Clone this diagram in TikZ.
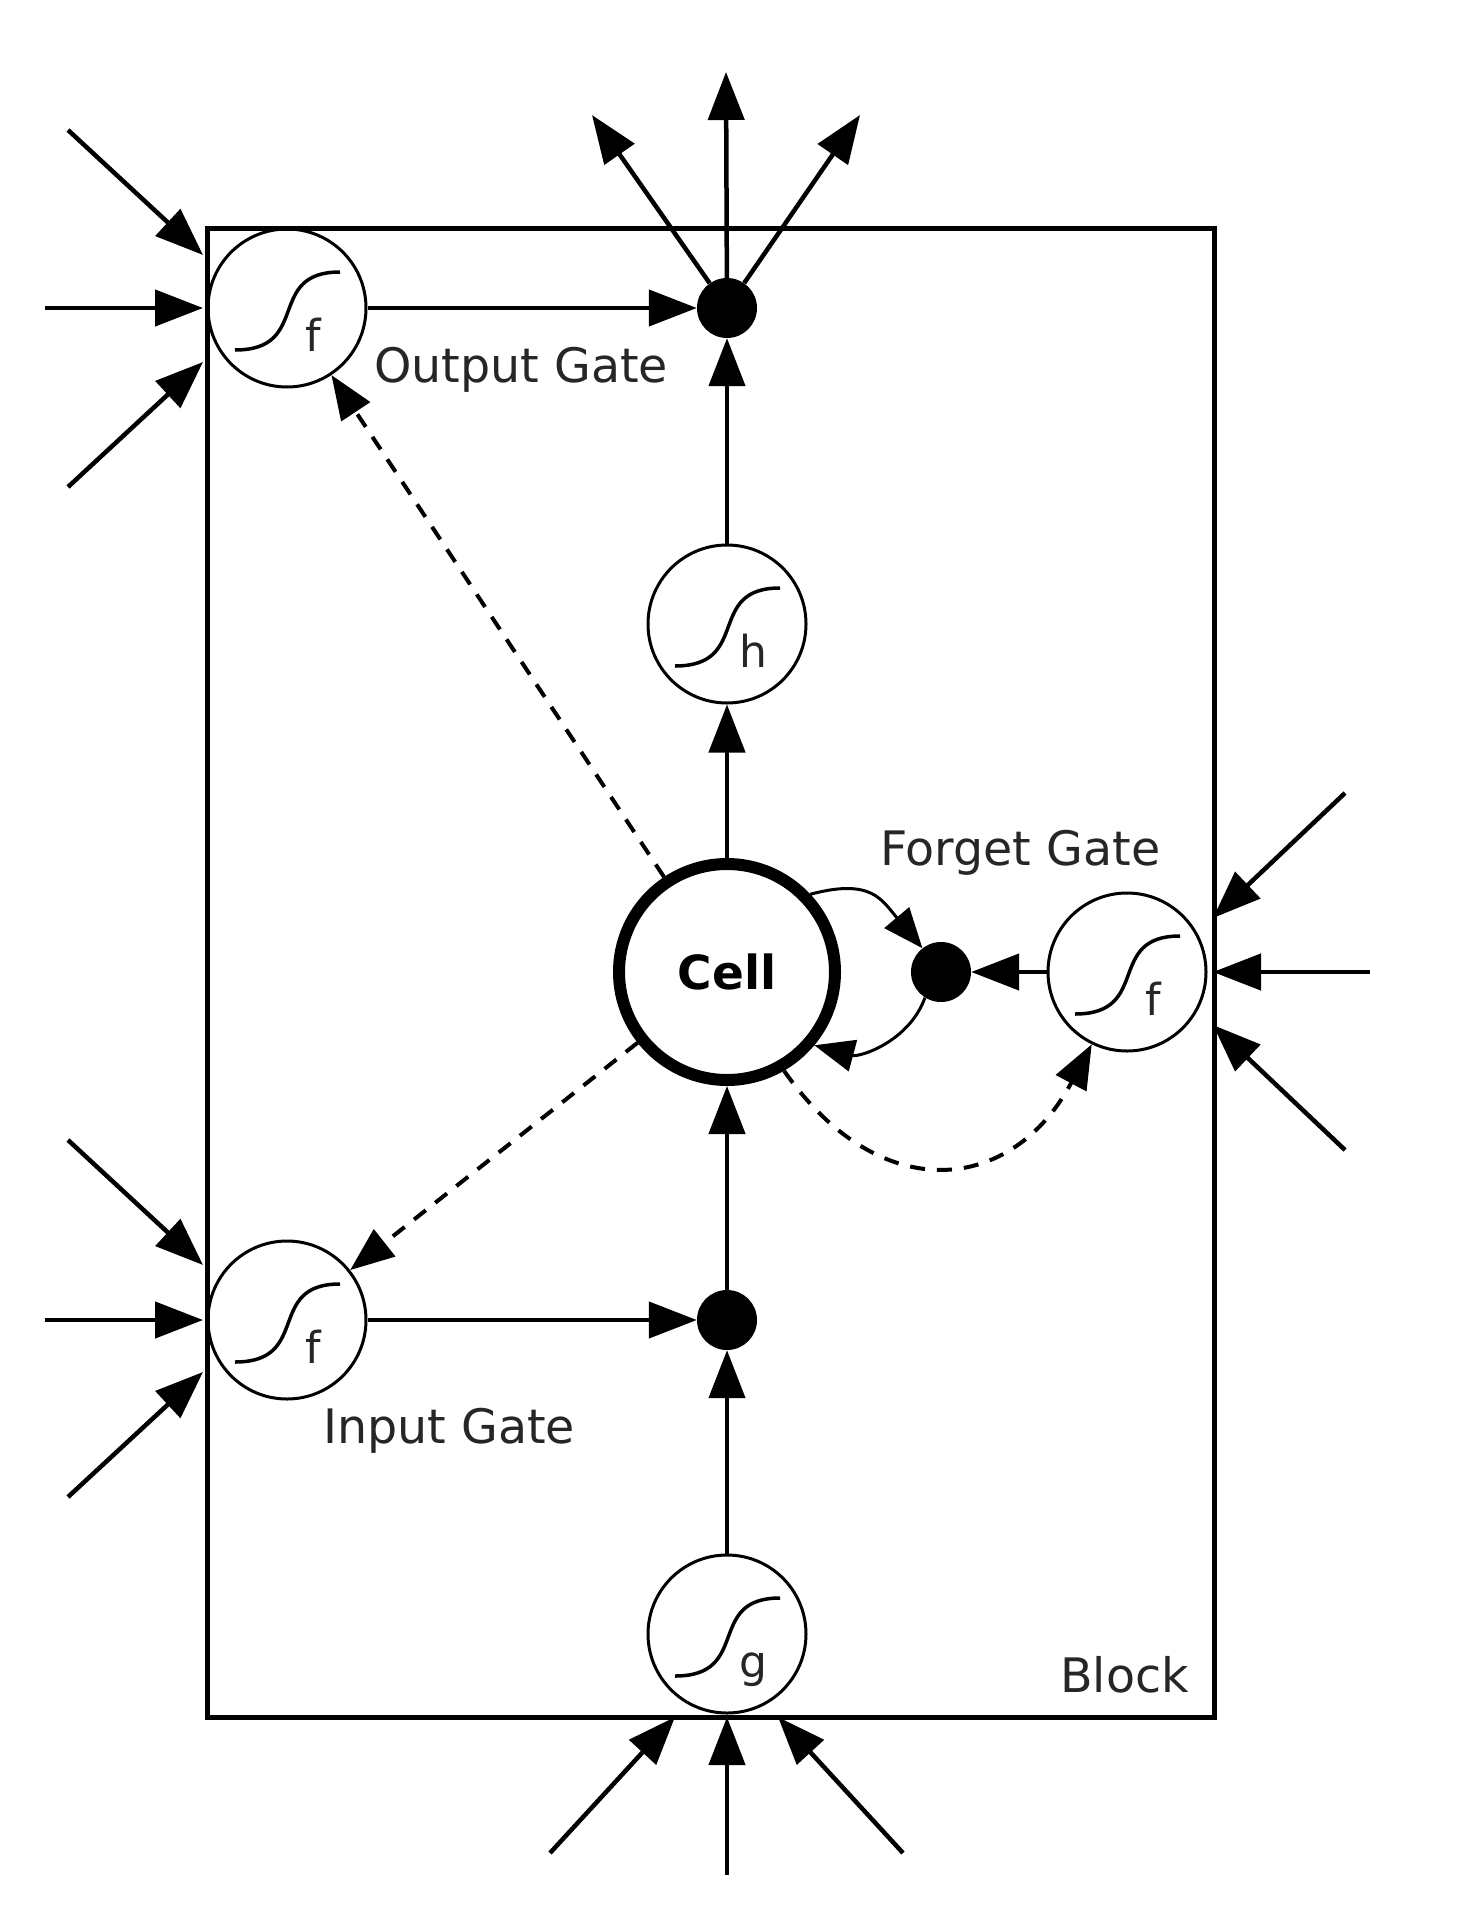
\documentclass[tikz,border=0pt]{standalone}
\usepackage{fontspec}
\setmainfont{DejaVu Sans}
\usetikzlibrary{arrows.meta}
\begin{document}
\begin{tikzpicture}[x=1pt,y=1pt,
  arr/.style={line width=4.5pt,-{Triangle[length=48pt,width=36pt]}},
  looparr/.style={line width=3pt,-{Triangle[length=40pt,width=32pt]}},
  dsh/.style={line width=4pt,dash pattern=on 15pt off 12pt,-{Triangle[length=44pt,width=34pt]}},
  gate/.style={circle,draw,line width=3pt,minimum size=158pt,inner sep=0pt},
  mult/.style={circle,fill=black,minimum size=60pt,inner sep=0pt},
  lbl/.style={font=\fontsize{47.5}{57}\selectfont,text=black!85,inner sep=0pt,anchor=base west},
  sym/.style={font=\fontsize{44}{52}\selectfont,text=black!85,inner sep=0pt,anchor=base},
  sigm/.pic={\draw[line width=3.5pt] (-52,-42) .. controls (25,-42) and (-22,36) .. (53,36);}
]
\useasboundingbox (0,0) rectangle (1457,-1911);
\fill[white] (0,0) rectangle (1457,-1911);

% block
\node[draw,line width=4.5pt,minimum width=1007pt,minimum height=1489pt,inner sep=0pt,anchor=north west] (block) at (205,-226) {};

% gates
\node[gate] (og) at (287,-308) {};
\node[gate] (ig) at (287,-1320) {};
\node[gate] (fg) at (1127,-972) {};
\node[gate] (hh) at (727,-624) {};
\node[gate] (gg) at (727,-1634) {};
\pic at (og) {sigm};
\pic at (ig) {sigm};
\pic at (fg) {sigm};
\pic at (hh) {sigm};
\pic at (gg) {sigm};
\node[sym] (ogl) at (313,-351) {f};
\node[sym] (igl) at (313,-1363) {f};
\node[sym] (fgl) at (1153,-1015) {f};
\node[sym] (hhl) at (753,-667) {h};
\node[sym] (ggl) at (753,-1677) {g};

% cell and multipliers
\node[circle,draw,line width=12pt,minimum size=216pt,inner sep=0pt,font=\bfseries\fontsize{47}{56}\selectfont] (cell) at (727,-972) {Cell};
\node[mult] (od) at (727,-308) {};
\node[mult] (id) at (727,-1320) {};
\node[mult] (fd) at (941,-972) {};

% labels
\node[lbl] (ogt) at (374,-382) {Output Gate};
\node[lbl] (igt) at (323,-1443) {Input Gate};
\node[lbl] (fgt) at (880,-865) {Forget Gate};
\node[lbl] (blk) at (1060,-1692) {Block};

% internal connections
\draw[arr] (og) -- (od);
\draw[arr] (hh) -- (od);
\draw[arr] (cell) -- (hh);
\draw[arr] (id) -- (cell);
\draw[arr] (gg) -- (id);
\draw[arr] (ig) -- (id);
\draw[arr] (fg) -- (fd);
\draw[looparr] (cell.43) to[out=15,in=130,looseness=1.3] (fd.128);
\draw[looparr] (fd.-122) to[out=-110,in=-15] (cell.-40);
\draw[dsh] (cell) -- (og);
\draw[dsh] (cell) -- (ig);
\draw[dsh] (cell.-60) to[out=-55,in=-118,looseness=1.4] (fg.-116);

% outputs
\coordinate (t1) at (592,-115);
\coordinate (t2) at (726,-72);
\coordinate (t3) at (860,-115);
\draw[arr] (od) -- (t1);
\draw[arr] (od) -- (t2);
\draw[arr] (od) -- (t3);

% output gate inputs
\coordinate (oa1) at (68,-130);  \coordinate (oa1t) at (203,-255);
\coordinate (oa2) at (45,-308);  \coordinate (oa2t) at (203,-308);
\coordinate (oa3) at (68,-487);  \coordinate (oa3t) at (203,-362);
\draw[arr] (oa1) -- (oa1t);
\draw[arr] (oa2) -- (oa2t);
\draw[arr] (oa3) -- (oa3t);

% input gate inputs
\coordinate (ia1) at (68,-1140);  \coordinate (ia1t) at (203,-1265);
\coordinate (ia2) at (45,-1320);  \coordinate (ia2t) at (203,-1320);
\coordinate (ia3) at (68,-1497);  \coordinate (ia3t) at (203,-1372);
\draw[arr] (ia1) -- (ia1t);
\draw[arr] (ia2) -- (ia2t);
\draw[arr] (ia3) -- (ia3t);

% forget gate inputs
\coordinate (fa1) at (1345,-793);  \coordinate (fa1t) at (1213,-918);
\coordinate (fa2) at (1370,-972);  \coordinate (fa2t) at (1213,-972);
\coordinate (fa3) at (1345,-1150); \coordinate (fa3t) at (1213,-1025);
\draw[arr] (fa1) -- (fa1t);
\draw[arr] (fa2) -- (fa2t);
\draw[arr] (fa3) -- (fa3t);

% g inputs
\coordinate (ga1) at (550,-1853);  \coordinate (ga1t) at (675,-1717);
\coordinate (ga2) at (727,-1875);  \coordinate (ga2t) at (727,-1717);
\coordinate (ga3) at (903,-1853);  \coordinate (ga3t) at (778,-1717);
\draw[arr] (ga1) -- (ga1t);
\draw[arr] (ga2) -- (ga2t);
\draw[arr] (ga3) -- (ga3t);
\end{tikzpicture}
\end{document}
